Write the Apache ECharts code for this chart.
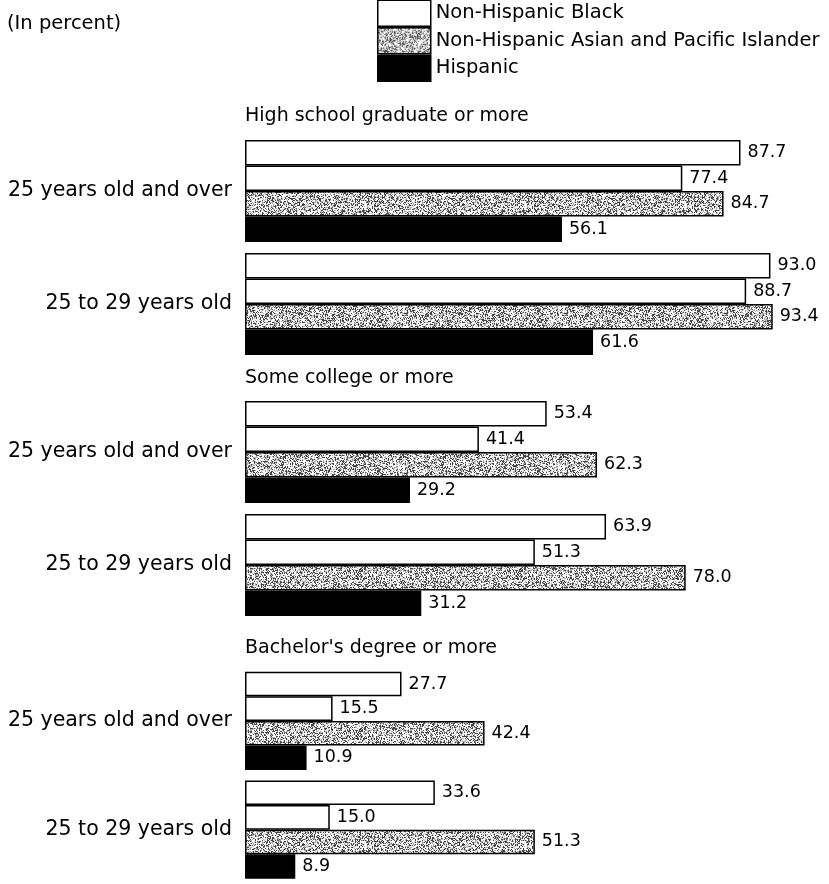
<!DOCTYPE html>
<html style="height: 100%">
<head>
    <meta charset="utf-8">
    <script src="https://cdn.jsdelivr.net/npm/echarts@6/dist/echarts.min.js"></script>
</head>
<body style="height: 100%; margin: 0; background: #fff">
    <div id="container" style="width: 829px; height: 884px"></div>
    <script type="text/javascript">

        // data (percent)
        let ageGroups = ['25 years old and over', '25 to 29 years old'];
        let sections = ['High school graduate or more', 'Some college or more', "Bachelor's degree or more"];
        let seriesNames = ['Non-Hispanic White', 'Non-Hispanic Black', 'Non-Hispanic Asian and Pacific Islander', 'Hispanic'];
        let white = [[87.7, 93.0], [53.4, 63.9], [27.7, 33.6]];
        let black = [[77.4, 88.7], [41.4, 51.3], [15.5, 15.0]];
        let asian = [[84.7, 93.4], [62.3, 78.0], [42.4, 51.3]];
        let hispanic = [[56.1, 61.6], [29.2, 31.2], [10.9, 8.9]];

        let font = 'DejaVu Sans';

        // speckled grey fill like the printed screen
        function speckle() {
            let c = document.createElement('canvas');
            c.width = 160; c.height = 160;
            let ctx = c.getContext('2d');
            let img = ctx.createImageData(160, 160);
            let s = 987654;
            for (let i = 0; i < 160 * 160; i++) {
                s = (s * 1103515245 + 12345) & 0x7fffffff;
                let v = (s >> 12) & 255;
                let g = v < 70 ? 70 : (v < 130 ? 175 : 250);
                img.data[i * 4] = g; img.data[i * 4 + 1] = g; img.data[i * 4 + 2] = g; img.data[i * 4 + 3] = 255;
            }
            ctx.putImageData(img, 0, 0);
            return { image: c, repeat: 'repeat' };
        }

        let fills = ['#ffffff', '#ffffff', speckle(), '#000000'];
        let values = [white, black, asian, hispanic];
        let gridTops = [134.5, 395.5, 666.5];
        let headTops = [107, 369, 639];

        let grids = [], xAxes = [], yAxes = [], series = [], titles = [];

        titles.push({
            text: '(In percent)', left: 7, top: 14, padding: 0,
            textStyle: { fontFamily: font, fontSize: 19.5, fontWeight: 'normal', color: '#000' }
        });

        sections.forEach((sec, k) => {
            grids.push({ left: 245, width: 565, top: gridTops[k], height: 226 });
            xAxes.push({ gridIndex: k, type: 'value', min: 0, max: 100, show: false });
            yAxes.push({
                gridIndex: k, type: 'category', data: ageGroups, inverse: true,
                axisLine: { show: false }, axisTick: { show: false }, splitLine: { show: false },
                axisLabel: { fontFamily: font, fontSize: 20.5, color: '#000', margin: 13 }
            });
            titles.push({
                text: sec, left: 245, top: headTops[k], padding: 0,
                textStyle: { fontFamily: font, fontSize: 19, fontWeight: 'normal', color: '#000' }
            });
            seriesNames.forEach((name, j) => {
                series.push({
                    name: name, type: 'bar', xAxisIndex: k, yAxisIndex: k,
                    data: values[j][k],
                    barGap: '0%', barCategoryGap: '9.7%',
                    itemStyle: { color: fills[j], borderColor: '#000', borderWidth: 1.5 },
                    label: {
                        show: true, position: 'right', distance: 7,
                        fontFamily: font, fontSize: 17.5, color: '#000',
                        formatter: p => p.value.toFixed(1)
                    },
                    emphasis: { disabled: true }
                });
            });
        });

        let dom = document.getElementById('container');
        let chart = echarts.init(dom);
        chart.setOption({
            animation: false,
            backgroundColor: '#fff',
            title: titles,
            legend: {
                data: seriesNames, orient: 'vertical', left: 377, top: -28, padding: 0,
                itemWidth: 53, itemHeight: 26, itemGap: 0, icon: 'rect',
                selectedMode: false,
                itemStyle: { borderColor: '#000', borderWidth: 1.5 },
                textStyle: { fontFamily: font, fontSize: 19.5, color: '#000' }
            },
            grid: grids,
            xAxis: xAxes,
            yAxis: yAxes,
            series: series
        });

    </script>
</body>
</html>
